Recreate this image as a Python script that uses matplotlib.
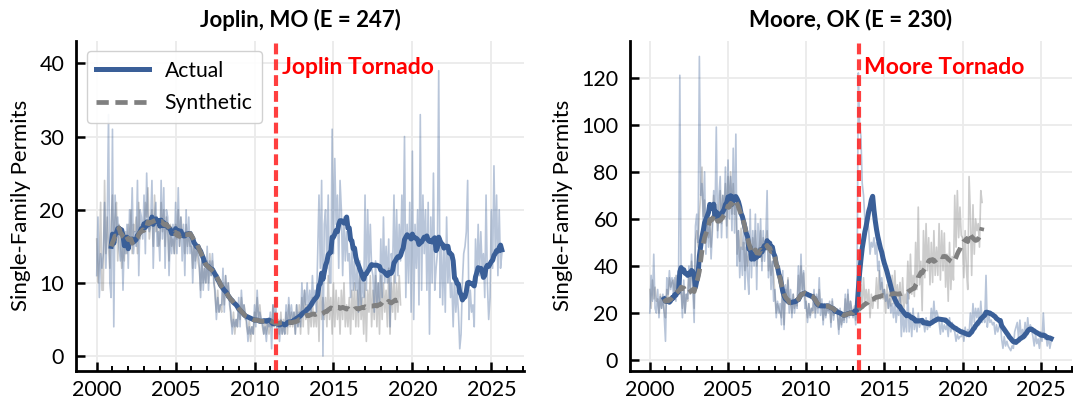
import numpy as np
import pandas as pd
import matplotlib
matplotlib.use("Agg")
import matplotlib.pyplot as plt
import matplotlib.transforms as mtransforms

plt.rcParams['font.family'] = ['Lato', 'DejaVu Sans']

# monthly permits, Jan 2000 onward
joplin_actual = [
    11, 19, 8, 14, 12, 14, 21, 12, 18, 33, 10, 8,
    31, 4, 22, 17, 19, 15, 13, 17, 9, 16, 14, 18,
    12, 20, 16, 23, 14, 17, 15, 24, 11, 20, 19, 16,
    22, 14, 25, 18, 17, 18, 24, 12, 19, 21, 15, 17,
    13, 24, 16, 23, 12, 20, 19, 11, 17, 14, 18, 14,
    21, 14, 23, 15, 19, 13, 18, 11, 20, 14, 19, 14,
    17, 10, 16, 12, 15, 14, 13, 8, 14, 9, 12, 10,
    15, 9, 13, 11, 14, 10, 9, 5, 8, 6, 7, 7,
    12, 6, 11, 8, 10, 7, 6, 3, 5, 4, 5, 4,
    8, 4, 9, 6, 7, 5, 5, 2, 4, 3, 4, 3,
    7, 4, 9, 5, 6, 5, 5, 3, 4, 2, 5, 4,
    6, 1, 7, 5, 8, 3, 4, 2, 5, 3, 4, 3,
    7, 4, 8, 5, 7, 5, 6, 3, 7, 4, 6, 4,
    10, 6, 9, 7, 10, 6, 9, 6, 11, 7, 9, 6,
    14, 22, 12, 24, 0, 18, 20, 12, 22, 10, 10, 31,
    14, 27, 18, 22, 12, 24, 20, 11, 19, 13, 17, 13,
    14, 8, 16, 9, 13, 9, 12, 6, 13, 7, 11, 8,
    22, 9, 20, 12, 18, 12, 11, 6, 13, 7, 10, 7,
    16, 8, 19, 10, 15, 10, 16, 4, 14, 12, 22, 10,
    20, 11, 18, 13, 22, 15, 30, 8, 18, 10, 21, 6,
    28, 5, 18, 12, 20, 7, 33, 9, 22, 14, 20, 9,
    21, 3, 19, 10, 25, 9, 12, 14, 39, 8, 16, 7,
    15, 6, 19, 10, 14, 8, 10, 4, 11, 6, 9, 6,
    1, 3, 10, 14, 15, 17, 24, 5, 9, 6, 7, 4,
    16, 10, 18, 11, 17, 12, 14, 8, 22, 10, 5, 8,
    20, 12, 26, 14, 22, 11, 20, 12, 14,
]
joplin_synth = [
    16, 10, 13, 21, 9, 9, 24, 14, 19, 15, 12, 18,
    22, 15, 19, 21, 13, 18, 16, 12, 15, 13, 17, 14,
    18, 15, 20, 14, 18, 17, 19, 14, 21, 16, 18, 17,
    17, 21, 19, 23, 16, 18, 20, 15, 22, 17, 19, 15,
    16, 21, 17, 20, 15, 19, 17, 13, 18, 15, 16, 14,
    18, 16, 20, 15, 19, 17, 17, 14, 18, 15, 17, 15,
    15, 12, 16, 13, 15, 13, 12, 9, 13, 10, 12, 10,
    13, 10, 14, 11, 13, 11, 8, 6, 9, 6, 7, 6,
    10, 7, 11, 8, 10, 8, 5, 4, 6, 3, 5, 4,
    7, 5, 8, 6, 7, 6, 4, 3, 5, 2, 4, 3,
    6, 5, 8, 5, 7, 5, 4, 3, 5, 3, 5, 3,
    5, 4, 7, 4, 6, 4, 5, 3, 6, 3, 5, 3,
    6, 3, 7, 4, 6, 4, 6, 3, 7, 4, 7, 3,
    8, 4, 9, 5, 7, 3, 7, 4, 8, 4, 6, 4,
    9, 2, 10, 5, 8, 5, 8, 4, 11, 5, 8, 3,
    10, 4, 9, 5, 8, 3, 9, 5, 10, 4, 7, 4,
    8, 3, 9, 5, 10, 4, 9, 4, 11, 5, 8, 3,
    10, 2, 9, 6, 11, 4, 9, 5, 11, 4, 10, 3,
    11, 5, 10, 6, 9, 4, 12, 3, 10, 6, 11, 5,
    10, 6, 11, 7,
]
moore_actual = [
    20, 36, 25, 45, 22, 20, 30, 18, 27, 22, 28, 19,
    8, 35, 28, 38, 30, 35, 28, 35, 25, 36, 31, 121,
    30, 18, 34, 20, 28, 26, 40, 28, 45, 30, 16, 57,
    62, 50, 129, 70, 75, 58, 80, 45, 62, 48, 58, 43,
    55, 72, 60, 99, 52, 70, 78, 52, 70, 60, 82, 52,
    85, 60, 78, 55, 90, 54, 96, 40, 55, 35, 48, 36,
    58, 30, 50, 36, 28, 64, 35, 55, 40, 62, 30, 58,
    45, 60, 38, 55, 42, 52, 72, 35, 48, 30, 42, 25,
    30, 18, 25, 20, 24, 15, 38, 13, 32, 25, 34, 20,
    30, 18, 28, 20, 26, 22, 40, 25, 45, 28, 38, 22,
    25, 16, 24, 18, 22, 21, 30, 18, 28, 20, 35, 19,
    26, 15, 24, 18, 23, 20, 25, 14, 26, 17, 22, 22,
    20, 11, 22, 14, 19, 16, 28, 16, 30, 18, 25, 21,
    18, 22, 15, 30, 122, 100, 95, 75, 70, 60, 55, 60,
    55, 45, 50, 48, 52, 45, 50, 38, 42, 30, 35, 28,
    30, 25, 28, 22, 26, 20, 24, 18, 25, 16, 22, 19,
    28, 10, 22, 12, 18, 12, 30, 12, 20, 10, 22, 13,
    18, 12, 20, 14, 17, 15, 17, 12, 18, 13, 16, 14,
    22, 16, 25, 17, 21, 19, 16, 11, 17, 12, 15, 13,
    15, 10, 18, 12, 16, 13, 12, 8, 11, 9, 10, 10,
    13, 8, 14, 10, 13, 11, 20, 14, 24, 16, 22, 18,
    22, 15, 25, 16, 20, 16, 36, 14, 20, 16, 17, 15,
    16, 11, 15, 12, 14, 16, 9, 5, 10, 6, 8, 6,
    5, 4, 6, 5, 12, 14, 16, 9, 17, 10, 13, 9,
    16, 10, 18, 12, 15, 13, 10, 6, 11, 7, 9, 5,
    12, 8, 20, 9, 11, 6, 10, 5, 8,
]
moore_synth = [
    30, 22, 34, 26, 31, 25, 26, 20, 28, 22, 27, 21,
    18, 30, 27, 35, 31, 33, 34, 27, 36, 28, 33, 28,
    30, 22, 31, 20, 28, 25, 38, 30, 42, 33, 22, 51,
    55, 48, 62, 70, 82, 61, 68, 50, 60, 52, 58, 48,
    58, 70, 62, 66, 55, 61, 72, 58, 70, 62, 75, 57,
    78, 65, 80, 62, 75, 62, 65, 45, 55, 42, 56, 47,
    50, 38, 48, 40, 45, 45, 42, 52, 44, 55, 40, 47,
    48, 55, 42, 52, 46, 49, 55, 38, 45, 36, 42, 36,
    28, 20, 24, 22, 20, 18, 32, 15, 30, 26, 35, 24,
    26, 20, 28, 22, 25, 23, 36, 28, 40, 30, 37, 27,
    23, 18, 24, 19, 22, 20, 28, 20, 27, 22, 30, 23,
    24, 17, 23, 19, 22, 21, 23, 16, 25, 19, 22, 21,
    19, 13, 20, 15, 18, 17, 26, 18, 28, 20, 25, 21,
    19, 23, 17, 21, 24, 20, 32, 22, 35, 25, 30, 24,
    30, 18, 28, 22, 27, 25, 35, 22, 38, 26, 33, 26,
    30, 20, 32, 22, 29, 23, 36, 24, 38, 25, 32, 25,
    33, 20, 35, 22, 28, 24, 42, 26, 45, 28, 36, 27,
    50, 30, 65, 32, 42, 21, 55, 35, 58, 38, 52, 32,
    50, 33, 55, 36, 48, 36, 58, 34, 55, 38, 54, 31,
    45, 25, 50, 30, 44, 34, 70, 48, 72, 52, 65, 53,
    52, 35, 55, 38, 30, 78, 62, 36, 66, 45, 60, 55,
    58, 48, 72, 67,
]

panels = [
    ("Joplin, MO (E = 247)", joplin_actual, joplin_synth, 2011 + 4.5 / 12,
     "Joplin Tornado", (-2.0, 43.1), [0, 10, 20, 30, 40], (1998.69, 2027.07)),
    ("Moore, OK (E = 230)", moore_actual, moore_synth, 2013 + 4.5 / 12,
     "Moore Tornado", (-4.5, 135.7), [0, 20, 40, 60, 80, 100, 120], (1998.73, 2026.7)),
]

blue = "#3a5f98"
grey = "#808080"
red = "#ff2a2a"

fig = plt.figure(figsize=(10.73, 4.0), dpi=100)
boxes = [[76 / 1073, 29.3 / 400, 448 / 1073, 330 / 400],
         [630 / 1073, 29.3 / 400, 442 / 1073, 330 / 400]]

for i, (box, (title, act, syn, event, label, ylim, yt, xlim)) in enumerate(zip(boxes, panels)):
    ax = fig.add_axes(box)
    t_act = 2000 + np.arange(len(act)) / 12
    t_syn = 2000 + np.arange(len(syn)) / 12
    s_act = pd.Series(act, dtype=float).rolling(12).mean()
    s_syn = pd.Series(syn, dtype=float).rolling(12).mean()

    ax.plot(t_syn, syn, color=grey, lw=1.2, alpha=0.4)
    ax.plot(t_act, act, color=blue, lw=1.2, alpha=0.36)
    ax.plot(t_act, s_act, color=blue, lw=3.6, label="Actual")
    ax.plot(t_syn, s_syn, color=grey, lw=3.4, ls=(0, (2.6, 1.4)), label="Synthetic")
    ax.axvline(event, color=red, lw=3, ls=(0, (2.6, 1.2)), alpha=0.9)
    trans = mtransforms.blended_transform_factory(ax.transData, ax.transAxes)
    ax.text(event + 0.35, 0.918, label, transform=trans, color="red",
            fontsize=16.5, fontweight="bold", va="center", ha="left")

    ax.set_title(title, fontsize=16, fontweight="bold", pad=10)
    ax.set_ylabel("Single-Family Permits", fontsize=16, labelpad=6)
    ax.set_ylim(*ylim)
    ax.set_yticks(yt)
    ax.set_xlim(*xlim)
    ax.set_xticks([2000, 2005, 2010, 2015, 2020, 2025])
    ax.set_xticks(np.arange(2000, 2028), minor=True)
    ax.tick_params(axis="both", which="major", direction="in", labelsize=15.5,
                   width=1.8, length=6.5)
    ax.tick_params(axis="x", which="major", pad=6.5)
    ax.tick_params(axis="y", which="major", pad=8.5)
    ax.tick_params(axis="x", which="minor", direction="in", width=1.4, length=3.3)
    ax.grid(True, color="#ebebeb", lw=1.3)
    ax.set_axisbelow(True)
    for s in ["top", "right"]:
        ax.spines[s].set_visible(False)
    for s in ["left", "bottom"]:
        ax.spines[s].set_linewidth(2)
    if i == 0:
        ax.legend(loc="upper left", fontsize=15.2, handlelength=2.5,
                  handletextpad=0.75, labelspacing=0.6, borderpad=0.45,
                  borderaxespad=0.5, framealpha=0.9)

fig.savefig("out.png", dpi=100)
